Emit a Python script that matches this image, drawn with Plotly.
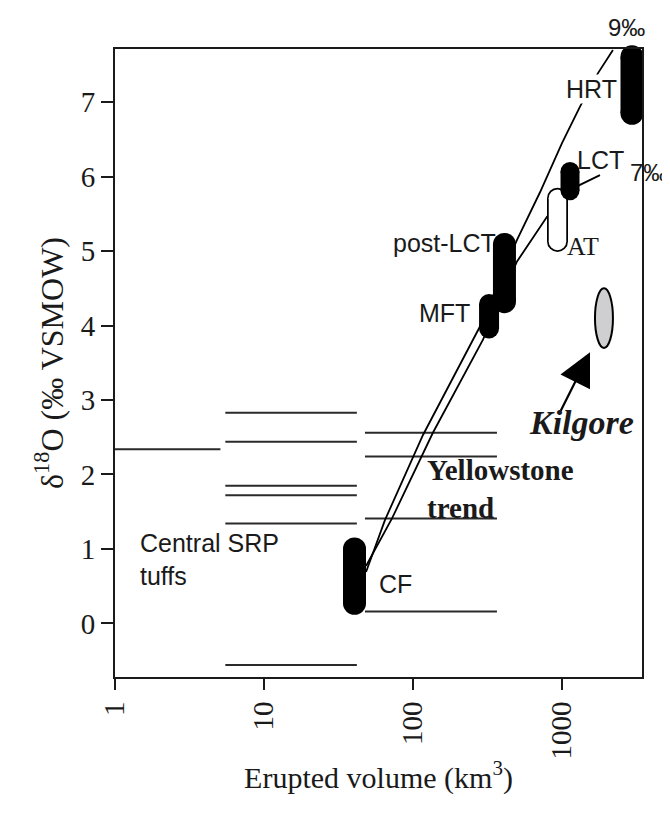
import math
import plotly.graph_objects as go

# ---------------- data ----------------
# Central SRP tuffs: horizontal ranges of erupted volume (km3) at a given d18O
srp_vol_min = [1.0, 5.5, 5.5, 5.5, 5.5, 5.5, 5.5]
srp_vol_max = [5.1, 42, 42, 42, 42, 42, 42]
srp_d18o = [2.34, 2.83, 2.44, 1.85, 1.72, 1.34, -0.56]

# Yellowstone trend horizontal lines
ys_vol_min = [47.6, 47.6, 47.6, 47.6]
ys_vol_max = [366, 366, 366, 366]
ys_d18o = [2.56, 2.24, 1.41, 0.16]

# Yellowstone units (capsules): volume and d18O range (centre line)
units = ["CF", "MFT", "post-LCT", "AT", "LCT", "HRT"]
unit_vol = [40.5, 324, 411, 933, 1132, 2950]
unit_d18o_lo = [0.27, 3.96, 4.32, 5.13, 5.81, 6.85]
unit_d18o_hi = [1.00, 4.29, 5.09, 5.71, 6.07, 7.61]
unit_hollow = [False, False, False, True, False, False]

# Kilgore tuff (grey ellipse)
kilgore_vol = [1665, 2198]
kilgore_d18o = [3.70, 4.50]

# trend curves
trend9_vol = [48.4, 64.9, 116.7, 164, 282, 499, 712, 1000, 1321, 1745, 2198]
trend9_d18o = [0.69, 1.39, 2.53, 3.09, 3.99, 5.15, 5.79, 6.45, 6.94, 7.39, 7.70]
trend7_vol = [48.4, 72.3, 136, 194, 295, 499, 793, 1047, 1321, 1799]
trend7_d18o = [0.77, 1.41, 2.56, 3.13, 3.81, 4.86, 5.46, 5.73, 5.89, 6.02]

x_tickvals = [1, 10, 100, 1000]
x_ticktext = ["1", "10", "100", "1000"]
y_tickvals = [0, 1, 2, 3, 4, 5, 6, 7]

# ---------------- styles ----------------
cap_width = [23, 20, 23, 21, 19, 23]
SERIF = "Liberation Serif, Times New Roman, serif"
SANS = "Liberation Sans, Arial, sans-serif"
INK = "#1a1a1a"

fig = go.Figure()

# horizontal lines
hx, hy = [], []
for a, b, d in zip(srp_vol_min + ys_vol_min, srp_vol_max + ys_vol_max, srp_d18o + ys_d18o):
    hx += [a, b, None]
    hy += [d, d, None]
fig.add_trace(go.Scatter(x=hx, y=hy, mode="lines", line=dict(color="#2a2a2a", width=2),
                         hoverinfo="skip", showlegend=False))

# trend curves
for tv, td in [(trend9_vol, trend9_d18o), (trend7_vol, trend7_d18o)]:
    fig.add_trace(go.Scatter(x=tv, y=td, mode="lines", line=dict(color="black", width=1.8),
                             hoverinfo="skip", showlegend=False))

# capsules
for name, v, lo, hi, hol, w in zip(units, unit_vol, unit_d18o_lo, unit_d18o_hi, unit_hollow, cap_width):
    fig.add_trace(go.Scatter(x=[v, v], y=[lo, hi], mode="lines+markers",
                             line=dict(color="black", width=w),
                             marker=dict(color="black", size=w, line=dict(width=0)),
                             name=name, hoverinfo="name", showlegend=False, cliponaxis=False))
    if hol:
        fig.add_trace(go.Scatter(x=[v, v], y=[lo, hi], mode="lines+markers",
                                 line=dict(color="white", width=w - 3.5),
                                 marker=dict(color="white", size=w - 3.5, line=dict(width=0)),
                                 hoverinfo="skip", showlegend=False))

# Kilgore ellipse (data coordinates)
fig.add_shape(type="circle", xref="x", yref="y",
              x0=kilgore_vol[0], x1=kilgore_vol[1],
              y0=kilgore_d18o[0], y1=kilgore_d18o[1],
              fillcolor="#cfcfd2", line=dict(color="black", width=2), layer="above")

L = math.log10
ann = []
def label(text, x, y, size=25, family=SANS, xanchor="left", **kw):
    ann.append(dict(text=text, x=L(x), y=y, xref="x", yref="y", showarrow=False,
                    xanchor=xanchor, yanchor="middle",
                    font=dict(family=family, size=size, color=INK), **kw))

label("CF", 57.3, 0.53)
label("MFT", 249, 4.17, xanchor="right")
label("post-LCT", 372, 5.11, xanchor="right")
label("HRT", 2377, 7.18, xanchor="right", bgcolor="white", borderpad=0)
label("LCT", 1222, 6.22)
label("AT", 1047, 5.06, size=26, family=SERIF)
label("7‰", 2773, 6.05, size=24)
label("Central SRP<br>tuffs", 1.43, 0.86, align="left")
label("<b>Yellowstone<br>trend</b>", 120.4, 1.80, size=29, family=SERIF, align="left")
label("<b><i>Kilgore</i></b>", 1343, 2.70, size=34, family=SERIF, xanchor="center")

# 9 permil label sits above the frame
ann.append(dict(text="9‰", x=L(2690), y=1.035, xref="x", yref="paper", showarrow=False,
                xanchor="center", yanchor="middle", font=dict(family=SANS, size=24, color=INK)))

# arrow to Kilgore
ann.append(dict(x=L(1542), y=3.64, xref="x", yref="y", ax=-30, ay=60, axref="pixel", ayref="pixel",
                showarrow=True, arrowhead=2, arrowsize=3, arrowwidth=2.2, arrowcolor="black", text=""))

# the page body adds an 8 px margin: figure is 8 px smaller, left/top margins reduced
fig.update_layout(
    width=662, height=806,
    margin=dict(l=107, r=28, t=41, b=137),
    paper_bgcolor="white", plot_bgcolor="white",
    annotations=ann,
    xaxis=dict(type="log", range=[0, 3.537], tickvals=x_tickvals, ticktext=x_ticktext,
               tickangle=-90, ticks="outside", ticklen=11, tickwidth=2, tickcolor=INK,
               showline=True, linecolor=INK, linewidth=2, mirror=True,
               showgrid=False, zeroline=False,
               tickfont=dict(family=SERIF, size=29, color=INK),
               title=dict(text="Erupted volume (km<sup>3</sup>)", standoff=8,
                          font=dict(family=SERIF, size=30, color=INK))),
    yaxis=dict(range=[-0.72, 7.714], tickvals=y_tickvals, ticks="outside", ticklen=12,
               tickwidth=2, tickcolor=INK,
               showline=True, linecolor=INK, linewidth=2, mirror=True,
               showgrid=False, zeroline=False,
               tickfont=dict(family=SERIF, size=29, color=INK),
               title=dict(text="δ<sup>18</sup>O (‰ VSMOW)", standoff=8,
                          font=dict(family=SERIF, size=32, color=INK))),
)

fig.write_html("out.html")
